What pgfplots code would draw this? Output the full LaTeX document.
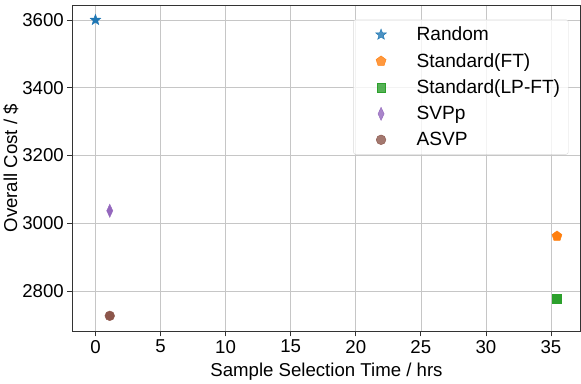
\documentclass[border=0pt]{standalone}
\usepackage{fontspec}
\setmainfont{Liberation Sans}
\usepackage{pgfplots}
\pgfplotsset{compat=1.18}
\usetikzlibrary{plotmarks}
\definecolor{tabblue}{HTML}{1F77B4}
\definecolor{taborange}{HTML}{FF7F0E}
\definecolor{tabgreen}{HTML}{2CA02C}
\definecolor{tabpurple}{HTML}{9467BD}
\definecolor{tabbrown}{HTML}{8C564B}
% filled five-pointed star
\pgfdeclareplotmark{fstar}{%
  \pgfpathmoveto{\pgfqpointpolar{90}{\pgfplotmarksize}}%
  \pgfpathlineto{\pgfqpointpolar{126}{0.42\pgfplotmarksize}}%
  \pgfpathlineto{\pgfqpointpolar{162}{\pgfplotmarksize}}%
  \pgfpathlineto{\pgfqpointpolar{198}{0.42\pgfplotmarksize}}%
  \pgfpathlineto{\pgfqpointpolar{234}{\pgfplotmarksize}}%
  \pgfpathlineto{\pgfqpointpolar{270}{0.42\pgfplotmarksize}}%
  \pgfpathlineto{\pgfqpointpolar{306}{\pgfplotmarksize}}%
  \pgfpathlineto{\pgfqpointpolar{342}{0.42\pgfplotmarksize}}%
  \pgfpathlineto{\pgfqpointpolar{18}{\pgfplotmarksize}}%
  \pgfpathlineto{\pgfqpointpolar{54}{0.42\pgfplotmarksize}}%
  \pgfpathclose\pgfusepathqfillstroke}
\newcommand{\fs}{\fontsize{18.5}{22}\selectfont}
\begin{document}
\begin{tikzpicture}[x=1bp,y=1bp]
\begin{axis}[scale only axis, width=503bp, height=323bp,
    xmin=-1.775, xmax=37.275, ymin=2681, ymax=3644,
    xtick={0,5,...,35}, ytick={2800,3000,3200,3400,3600},
    grid=major, grid style={gray!45, line width=0.6pt},
    axis line style={black!80, line width=0.8pt},
    tick align=outside, tick pos=left, major tick length=5bp,
    tick style={black!80, line width=0.8pt},
    /pgf/number format/assume math mode=true,
    /pgf/number format/1000 sep={},
    tick label style={font=\fs},
    label style={font=\fs},
    xlabel={Sample Selection Time / hrs}, ylabel={Overall Cost / \$},
    xlabel style={yshift=-3bp}, ylabel style={yshift=-3bp},
    legend style={at={(0.976,0.955)}, anchor=north east,
        font=\fontsize{19}{22}\selectfont, draw=black!15, rounded corners=2pt,
        fill=white, fill opacity=0.8, text opacity=1,
        row sep=7bp, inner xsep=6bp, inner ysep=5bp},
    legend cell align=left,
    legend image code/.code={\path (0bp,0bp) (54bp,0bp);
        \draw[#1] plot coordinates {(21bp,0bp)};}]
\addplot[only marks, mark=fstar, mark size=5.6bp, color=tabblue] coordinates {(0,3600)};
\addlegendentry{Random}
\addplot[only marks, mark=pentagon*, mark size=5.2bp, color=taborange] coordinates {(35.46,2962)};
\addlegendentry{Standard(FT)}
\addplot[only marks, mark=square*, mark size=4.3bp, color=tabgreen] coordinates {(35.46,2777)};
\addlegendentry{Standard(LP-FT)}
\addplot[only marks, mark=diamond*, mark size=6.5bp, color=tabpurple,
    mark options={xscale=0.62}] coordinates {(1.1,3037)};
\addlegendentry{SVPp}
\addplot[only marks, mark=*, mark size=4.8bp, color=tabbrown] coordinates {(1.1,2727)};
\addlegendentry{ASVP}
\end{axis}
% a little room above the axis, as in the reference
\path ([yshift=5bp]current axis.north);
\end{tikzpicture}
\end{document}
